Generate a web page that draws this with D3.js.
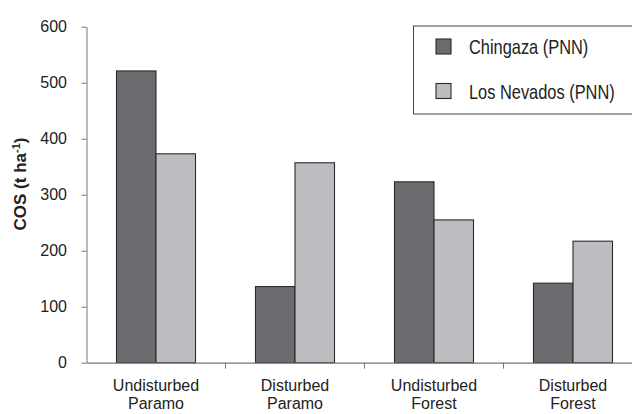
<!DOCTYPE html>
<html>
<head>
<meta charset="utf-8">
<script src="https://cdn.jsdelivr.net/npm/d3@7"></script>
<style>
  body { margin: 0; background: #fff; }
  text { font-family: "Liberation Sans", Arial, sans-serif; fill: #222; }
</style>
</head>
<body>
<div id="chart"></div>
<script>
// Chart data
const categories = [['Undisturbed', 'Paramo'], ['Disturbed', 'Paramo'], ['Undisturbed', 'Forest'], ['Disturbed', 'Forest']];
const seriesNames = ['Chingaza (PNN)', 'Los Nevados (PNN)'];
const chingaza = [521, 136, 323, 142];
const losNevados = [373, 357, 255, 217];
const yTicks = [0, 100, 200, 300, 400, 500, 600];

const W = 632, H = 414;
const margin = { top: 26.7, right: -10.5, bottom: 51.3, left: 86.5 };
const width = W - margin.left - margin.right;
const height = H - margin.top - margin.bottom;
const colors = ['#6b6c70', '#bcbdc1'];

const svg = d3.select('#chart')
    .append('svg')
    .attr('width', W)
    .attr('height', H);

const g = svg.append('g')
    .attr('transform', `translate(${margin.left},${margin.top})`);

// Scales
const x0 = d3.scaleBand()
    .domain(d3.range(categories.length))
    .range([0, width])
    .padding(0);

const x1 = d3.scaleBand()
    .domain([0, 1])
    .range([30, x0.bandwidth() - 30])
    .padding(0);

const y = d3.scaleLinear()
    .domain([0, 600])
    .range([height, 0]);

// Bars
const rows = categories.map((c, i) => [chingaza[i], losNevados[i]]);

const groups = g.selectAll('.group')
    .data(rows)
    .enter()
    .append('g')
    .attr('class', 'group')
    .attr('transform', (d, i) => `translate(${x0(i)},0)`);

groups.selectAll('rect')
    .data(d => d)
    .enter()
    .append('rect')
    .attr('x', (d, j) => x1(j))
    .attr('y', d => y(d))
    .attr('width', x1.bandwidth())
    .attr('height', d => y(0) - y(d))
    .attr('fill', (d, j) => colors[j])
    .attr('stroke', '#2a2a2a')
    .attr('stroke-width', 1.1);

// Y axis
const yAxis = g.append('g')
    .call(d3.axisLeft(y).tickValues(yTicks).tickSize(5).tickPadding(14.5).tickSizeOuter(0));
yAxis.select('.domain').attr('stroke', '#777');
yAxis.selectAll('.tick line').attr('stroke', '#777');
yAxis.selectAll('.tick text')
    .style('font-family', '"Liberation Sans", Arial, sans-serif')
    .style('font-size', '16px')
    .attr('fill', '#222');

// X axis
const xAxis = g.append('g')
    .attr('transform', `translate(0,${height})`)
    .call(d3.axisBottom(x0).tickValues([]).tickSizeOuter(0));
xAxis.select('.domain').attr('stroke', '#777').attr('stroke-width', 1.3);

g.selectAll('.xtick')
    .data(d3.range(1, categories.length))
    .enter()
    .append('line')
    .attr('x1', i => x0(i))
    .attr('x2', i => x0(i))
    .attr('y1', height)
    .attr('y2', height + 6)
    .attr('stroke', '#777');

// two-line category labels
const xLabels = g.selectAll('.xlabel')
    .data(categories)
    .enter()
    .append('text')
    .attr('text-anchor', 'middle')
    .attr('transform', (d, i) => `translate(${x0(i) + x0.bandwidth() / 2},${height})`)
    .style('font-size', '16px');

xLabels.selectAll('tspan')
    .data(d => d)
    .enter()
    .append('tspan')
    .attr('x', 0)
    .attr('y', (d, k) => 28.5 + k * 18)
    .text(d => d);

// Y axis title
const yTitle = svg.append('text')
    .attr('transform', 'translate(25.5,184) rotate(-90)')
    .attr('text-anchor', 'middle')
    .style('font-size', '17px')
    .style('font-weight', 'bold');
yTitle.append('tspan').text('COS (t ha');
yTitle.append('tspan').attr('dy', -6).style('font-size', '11px').text('-1');
yTitle.append('tspan').attr('dy', 6).text(')');

// Legend
const legend = svg.append('g')
    .attr('transform', 'translate(413.5,26)');

legend.append('rect')
    .attr('width', 240)
    .attr('height', 88)
    .attr('fill', '#fff')
    .attr('stroke', '#444')
    .attr('stroke-width', 1);

const items = legend.selectAll('.item')
    .data(seriesNames)
    .enter()
    .append('g')
    .attr('transform', (d, i) => `translate(22.5,${13 + i * 44.5})`);

items.append('rect')
    .attr('width', 15)
    .attr('height', 15)
    .attr('fill', (d, i) => colors[i])
    .attr('stroke', '#2a2a2a')
    .attr('stroke-width', 1.1);

items.append('text')
    .attr('transform', 'translate(33,15.3) scale(0.8,1)')
    .style('font-size', '20.5px')
    .text(d => d);
</script>
</body>
</html>
